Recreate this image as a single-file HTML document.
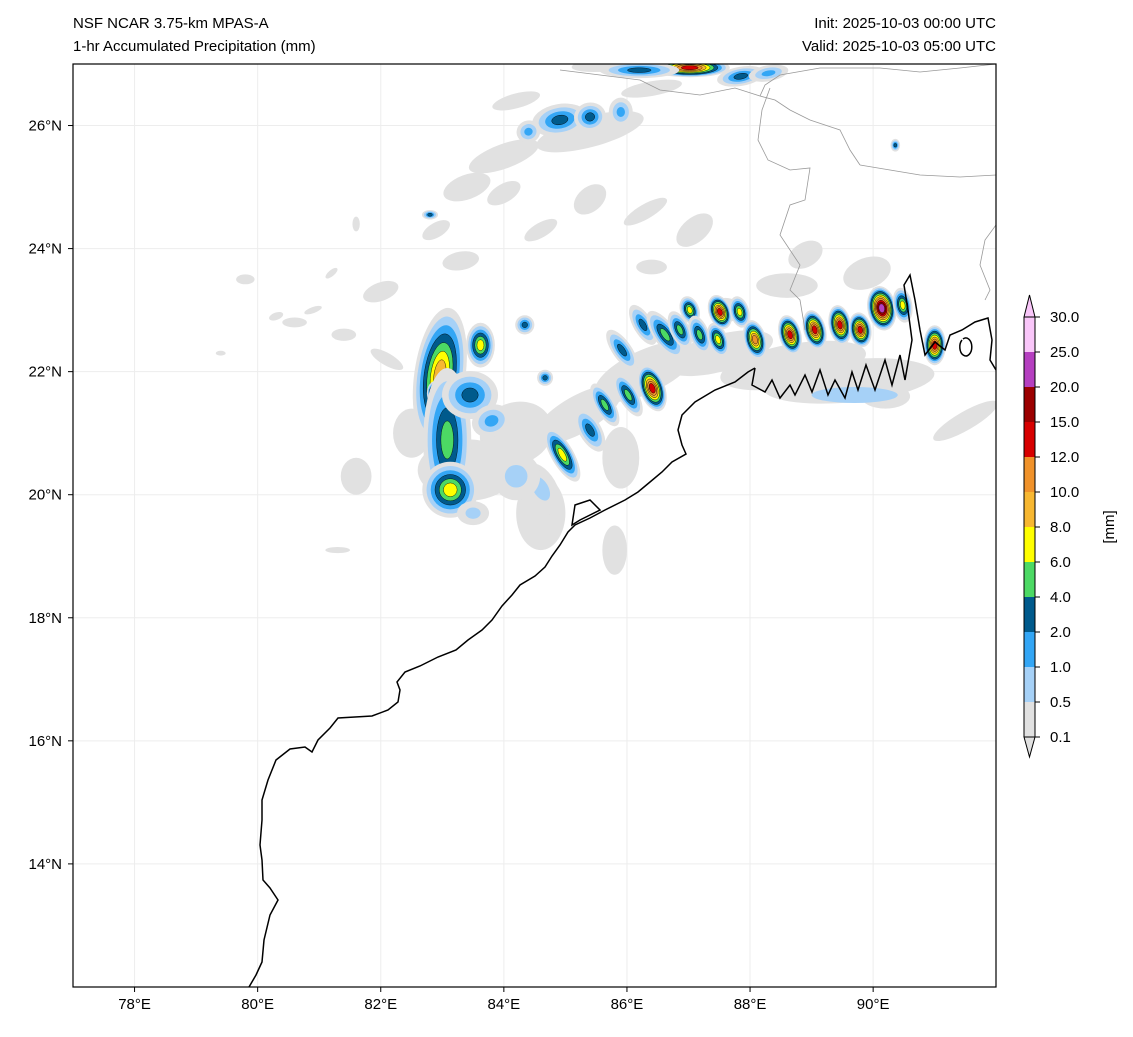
<!DOCTYPE html>
<html><head><meta charset="utf-8"><style>
body{margin:0;background:#fff;font-family:"Liberation Sans","DejaVu Sans",sans-serif}
svg text{font-family:"Liberation Sans","DejaVu Sans",sans-serif;fill:#000}
</style></head><body>
<svg id="chart" width="1133" height="1032" viewBox="0 0 1133 1032" xmlns="http://www.w3.org/2000/svg">
<rect width="1133" height="1032" fill="#fff"/>
<text x="73" y="28" font-size="15">NSF NCAR 3.75-km MPAS-A</text>
<text x="73" y="51" font-size="15">1-hr Accumulated Precipitation (mm)</text>
<text x="996" y="28" font-size="15" text-anchor="end">Init: 2025-10-03 00:00 UTC</text>
<text x="996" y="51" font-size="15" text-anchor="end">Valid: 2025-10-03 05:00 UTC</text>
<defs><clipPath id="clip"><rect x="73" y="64" width="923" height="923"/></clipPath></defs>
<g id="grid"></g>
<g id="field" clip-path="url(#clip)"></g>
<g clip-path="url(#clip)" fill="none" stroke="#999" stroke-width="0.8">
<path d="M560,70 L600,75 L640,80 L660,90 L700,95 L735,88 L760,96 L765,85 L780,75 L820,68 L880,68 L920,72 L960,68 L996,64"/>
<path d="M770,88 L762,110 L758,140 L768,160 L790,170 L810,168 L805,200 L790,205 L780,235 L790,250 L800,265 L790,290 L800,300 L805,330"/>
<path d="M860,165 L890,170 L920,175 L960,177 L996,175"/>
<path d="M996,225 L985,240 L980,265 L990,290 L985,300"/>
<path d="M760,96 L775,100 L790,110 L810,120 L840,130 L850,150 L860,165"/>
</g>
<g clip-path="url(#clip)" fill="none" stroke="#000" stroke-width="1.5">
<path d="M249,987 L256,975 L262,962 L264,940 L270,915 L278,900 L270,888 L263,880 L262,860 L260,845 L262,820 L262,800 L268,780 L276,760 L290,749 L305,747 L312,752 L318,740 L330,728 L338,718 L355,717 L372,716 L388,710 L398,702 L400,690 L397,682 L405,672 L420,666 L438,657 L456,650 L468,640 L482,630 L492,620 L502,606 L512,595 L520,585 L535,576 L545,567 L552,556 L560,545 L568,532 L575,525 L590,518 L605,510 L625,500 L638,492 L650,482 L662,472 L672,462 L686,454 L682,445 L678,430 L682,415 L695,402 L715,390 L735,382 L748,372 L755,368"/>
<path d="M755,368 L752,385 L765,392 L772,380 L780,398 L790,385 L795,395 L805,375 L812,392 L820,370 L828,395 L835,380 L845,398 L852,372 L858,390 L866,365 L875,390 L885,360 L892,385 L900,355 L905,380 L912,340 L908,310 L904,285 L910,275 L915,300 L920,330 L925,355 L935,342 L945,350 L950,335 L962,330 L975,322 L988,318 L992,340 L990,360 L996,370"/>
<path d="M572,525 L575,505 L590,500 L600,510 L580,520 Z"/>
<path d="M962,340 A6,9 0 1,0 963,339"/>
</g>
<rect x="73" y="64" width="923" height="923" fill="none" stroke="#000" stroke-width="1.2"/>
<g id="axes"></g>
<g id="cbar"></g>
</svg>
<script>
const latTicks=[26,24,22,20,18,16,14];
const lonTicks=[78,80,82,84,86,88,90];
const levelLabels=["0.1","0.5","1.0","2.0","4.0","6.0","8.0","10.0","12.0","15.0","20.0","25.0","30.0"];
const levelColors=["#e1e1e1","#a6d1f7","#33a6f5","#005a8c","#4cd964","#ffff00","#f7b731","#f0922a","#d70000","#9b0000","#b53fc0","#f9c6f9"];
// precipitation cells: lon, lat, semi-axis lon (deg), semi-axis lat (deg), rotation, peak level index
const cellLon=[82.96,82.88,83.08,83.13,83.62,83.45,84.34,84.67,84.95,85.40,85.64,86.02,86.41,85.92,86.26,86.62,87.02,86.86,87.18,87.48,87.51,87.83,88.08,88.65,89.05,89.46,89.79,90.14,90.48,91.0,84.91,85.40,85.9,87.02,86.2,87.85,88.3,84.4,82.8,90.36,84.6,83.8,84.2,83.5];
const cellLat=[21.94,21.65,20.89,20.08,22.43,21.62,22.76,21.9,20.65,21.05,21.46,21.62,21.73,22.35,22.76,22.6,23.0,22.68,22.6,22.52,22.97,22.97,22.52,22.6,22.68,22.76,22.68,23.03,23.08,22.43,26.09,26.14,26.22,26.94,26.9,26.8,26.85,25.9,24.55,25.68,20.1,21.2,20.3,19.7];
const cellA=[0.32,0.1,0.3,0.35,0.18,0.35,0.12,0.1,0.14,0.14,0.12,0.12,0.16,0.12,0.12,0.14,0.12,0.12,0.12,0.12,0.14,0.12,0.14,0.14,0.14,0.14,0.14,0.18,0.12,0.14,0.35,0.2,0.15,0.5,0.5,0.3,0.25,0.15,0.1,0.06,0.2,0.25,0.3,0.2];
const cellB=[0.85,0.15,0.9,0.35,0.28,0.3,0.12,0.1,0.38,0.3,0.3,0.3,0.3,0.3,0.28,0.35,0.18,0.25,0.25,0.22,0.22,0.2,0.25,0.25,0.25,0.25,0.22,0.28,0.22,0.25,0.2,0.18,0.18,0.12,0.1,0.12,0.1,0.14,0.06,0.08,0.35,0.2,0.3,0.15];
const cellRot=[8,0,0,0,0,0,0,0,-30,-30,-30,-30,-20,-35,-30,-35,-20,-25,-20,-20,-20,-15,-15,-15,-15,-10,-10,-10,-10,0,-10,-10,0,0,0,-10,-10,-20,0,0,-30,-20,0,0];
const cellPeak=[6,8,4,5,5,3,3,3,5,3,4,4,8,3,3,4,5,4,4,5,8,5,7,8,8,8,8,10,5,8,3,3,2,8,3,3,2,2,3,3,1,2,1,1];
// light precipitation patches (0.1-0.5 mm)
const grayLon=[89.6,88.7,87.5,86.3,85.2,84.2,83.4,84.6,85.8,85.4,84.0,86.3,87.1,88.6,89.9,91.5,82.0,81.4,80.6,79.8,84.6,85.4,86.4,87.6,88.9,90.2,83.3,85.9,84.2,82.5,81.6,85.7,86.4,80.9,80.3,81.2,82.9,81.6,79.4,81.3,82.1,83.4,84.0];
const grayLat=[21.85,22.1,22.3,22.0,21.3,21.0,20.4,19.7,19.1,25.9,25.5,24.6,24.3,23.4,23.6,21.2,23.3,22.6,22.8,23.5,24.3,24.8,23.7,23.0,23.9,21.6,23.8,20.6,26.4,21.0,20.3,27.0,26.6,23.0,22.9,23.6,24.3,24.4,22.3,19.1,22.2,25.0,24.9];
const grayA=[1.4,1.2,0.9,0.9,0.8,0.6,0.8,0.4,0.2,0.9,0.6,0.4,0.35,0.5,0.4,0.15,0.3,0.2,0.2,0.15,0.3,0.3,0.25,0.25,0.3,0.4,0.3,0.3,0.4,0.3,0.25,0.6,0.5,0.15,0.12,0.12,0.25,0.06,0.08,0.2,0.3,0.4,0.3];
const grayB=[0.35,0.35,0.3,0.35,0.3,0.5,0.5,0.6,0.4,0.25,0.2,0.12,0.2,0.2,0.25,0.6,0.15,0.1,0.08,0.08,0.12,0.2,0.12,0.2,0.2,0.2,0.15,0.5,0.12,0.4,0.3,0.12,0.12,0.05,0.06,0.05,0.12,0.12,0.04,0.05,0.1,0.2,0.15];
const grayRot=[-5,-10,-15,-25,-30,-20,0,0,0,-15,-20,-30,-40,0,-20,60,-20,0,0,0,-30,-40,0,0,-30,0,-10,0,-15,0,0,-5,-10,-20,-20,-40,-30,0,0,0,30,-20,-30];
// light-blue patch (Sundarbans)
const blueLon=[89.7];const blueLat=[21.62];const blueA=[0.7];const blueB=[0.13];

const X0=73,Y0=64,PX=61.55,PY=61.53;
const sx=lon=>X0+(lon-77)*PX;
const sy=lat=>Y0+(27-lat)*PY;
const NS="http://www.w3.org/2000/svg";
function mk(tag,parent,attrs){const e=document.createElementNS(NS,tag);for(const k in attrs)e.setAttribute(k,attrs[k]);parent.appendChild(e);return e;}

const grid=document.getElementById('grid');
latTicks.forEach(v=>{const l=mk('line',grid,{x1:73,x2:996,y1:sy(v),y2:sy(v),stroke:'#ededed','stroke-width':1});

});
lonTicks.forEach(v=>{const l=mk('line',grid,{x1:sx(v),x2:sx(v),y1:64,y2:987,stroke:'#ededed','stroke-width':1});

});

const field=document.getElementById('field');
for(let i=0;i<grayLon.length;i++){
 const e=mk('ellipse',field,{cx:sx(grayLon[i]),cy:sy(grayLat[i]),rx:grayA[i]*PX,ry:grayB[i]*PY,fill:levelColors[0],transform:`rotate(${grayRot[i]} ${sx(grayLon[i])} ${sy(grayLat[i])})`});
 
 
}
for(let i=0;i<blueLon.length;i++){
 const e=mk('ellipse',field,{cx:sx(blueLon[i]),cy:sy(blueLat[i]),rx:blueA[i]*PX,ry:blueB[i]*PY,fill:levelColors[1]});
 
 
}
for(let i=0;i<cellLon.length;i++){
 const cx=sx(cellLon[i]),cy=sy(cellLat[i]),p=cellPeak[i];
 const g=mk('g',field,{transform:`rotate(${cellRot[i]} ${cx} ${cy})`});
 
 
 for(let k=0;k<=p;k++){
  const s=1.3-1.1*k/(p+0.6);
  const e=mk('ellipse',g,{cx:cx,cy:cy,rx:Math.max(1.5,cellA[i]*PX*s),ry:Math.max(1.5,cellB[i]*PY*s),fill:levelColors[k],stroke:k>=3?'#000':'none','stroke-width':0.4});
  
  
 }
}

const axes=document.getElementById('axes');
latTicks.forEach(v=>{
 const y=sy(v);
 mk('line',axes,{x1:68,x2:73,y1:y,y2:y,stroke:'#000'});
 const t=mk('text',axes,{x:62,y:y+5,'font-size':15,'text-anchor':'end'});t.textContent=v+'°N';
 
 
});
lonTicks.forEach(v=>{
 const x=sx(v);
 mk('line',axes,{x1:x,x2:x,y1:987,y2:992,stroke:'#000'});
 const t=mk('text',axes,{x:x,y:1009,'font-size':15,'text-anchor':'middle'});t.textContent=v+'°E';
 
 
});

const cb=document.getElementById('cbar');
const cbX=1024,cbW=11,cbTop=317,step=35;
const n=levelColors.length;
for(let k=0;k<n;k++){
 const yb=cbTop+(n-k)*step;
 const r=mk('rect',cb,{x:cbX,y:yb-step,width:cbW,height:step,fill:levelColors[k]});
 
 
}
const bot=cbTop+n*step;
const tb=mk('path',cb,{d:`M${cbX},${bot} L${cbX+cbW/2},${bot+20} L${cbX+cbW},${bot} Z`,fill:levelColors[0],stroke:'#000','stroke-width':1});


const tt=mk('path',cb,{d:`M${cbX},${cbTop} L${cbX+cbW/2},${cbTop-22} L${cbX+cbW},${cbTop} Z`,fill:levelColors[n-1],stroke:'#000','stroke-width':1});


mk('path',cb,{d:`M${cbX},${cbTop} L${cbX},${bot} M${cbX+cbW},${cbTop} L${cbX+cbW},${bot}`,stroke:'#000','stroke-width':1,fill:'none'});
levelLabels.forEach((lab,k)=>{
 const y=cbTop+(n-k)*step;
 mk('line',cb,{x1:cbX+cbW,x2:cbX+cbW+5,y1:y,y2:y,stroke:'#000'});
 const t=mk('text',cb,{x:1050,y:y+5,'font-size':15});t.textContent=lab;
 
 
});
const ct=mk('text',cb,{x:1114,y:527,'font-size':15,'text-anchor':'middle',transform:'rotate(-90 1114 527)'});
ct.textContent='[mm]';


</script>
</body></html>
